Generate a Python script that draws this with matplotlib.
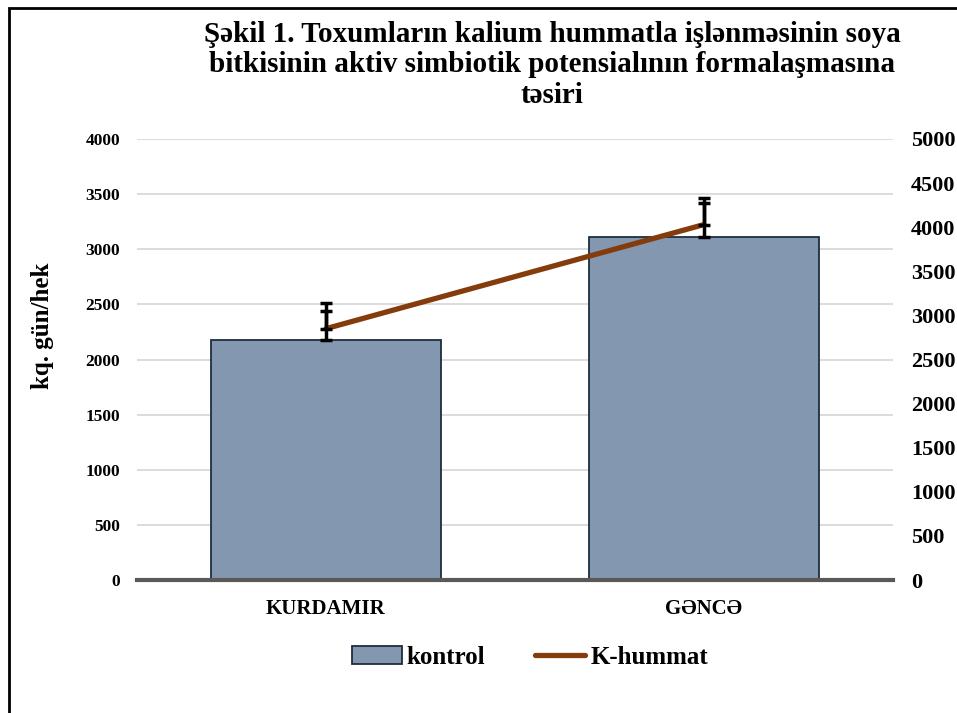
import matplotlib
matplotlib.use("Agg")
import matplotlib.pyplot as plt
from matplotlib.patches import Rectangle
from matplotlib.lines import Line2D
from matplotlib.patches import Patch

plt.rcParams['font.family'] = ['Liberation Serif', 'DejaVu Serif']
plt.rcParams['font.weight'] = 'bold'

categories = ["KURDAMIR", "GƏNCƏ"]
kontrol = [2180, 3110]
kontrol_err = [330, 355]
k_hummat = [2850, 4030]
k_hummat_err = [200, 250]
left_ticks = [0, 500, 1000, 1500, 2000, 2500, 3000, 3500, 4000]
right_ticks = [0, 500, 1000, 1500, 2000, 2500, 3000, 3500, 4000, 4500, 5000]
title = "Şəkil 1. Toxumların kalium hummatla işlənməsinin soya\nbitkisinin aktiv simbiotik potensialının formalaşmasına\ntəsiri"

W, H = 957, 713
fig = plt.figure(figsize=(W/100, H/100), dpi=100)
ax = fig.add_axes([137/W, 1-580/H, (893-137)/W, (580-139)/H])
x = list(range(len(categories)))

ax.bar(x, kontrol, width=0.606, color="#8497b0", edgecolor="#1f2d3d", linewidth=1.3, zorder=2, label="kontrol")
ax.errorbar(x, kontrol, yerr=[[0]*len(kontrol), kontrol_err], fmt="none", ecolor="black",
            elinewidth=2.5, capsize=4, capthick=2.5, zorder=5)
ax.set_xlim(-0.5, 1.5)
ax.set_ylim(0, 4000)
ax.set_yticks(left_ticks)
ax.set_yticklabels([str(t) for t in left_ticks], fontsize=12.5, fontweight='bold')
ax.set_xticks(x)
ax.set_xticklabels(categories, fontsize=15, fontweight='bold')
ax.tick_params(axis='y', length=0, pad=12)
ax.tick_params(axis='x', length=0, pad=14)
ax.grid(axis='y', color="#d9d9d9", linewidth=1.3, zorder=0)
ax.set_axisbelow(True)
for s in ['top', 'right', 'left']:
    ax.spines[s].set_visible(False)
ax.spines['bottom'].set_color("#595959")
ax.spines['bottom'].set_linewidth(3)
ax.spines['bottom'].set_zorder(6)

ax2 = ax.twinx()
ax2.plot(x, k_hummat, color="#843c0c", linewidth=3.8, solid_capstyle='round', zorder=3, label="K-hummat")
ax2.errorbar(x, k_hummat, yerr=[[0]*len(k_hummat), k_hummat_err], fmt="none", ecolor="black",
             elinewidth=2.5, capsize=4, capthick=2.5, zorder=4)
ax2.set_ylim(0, 5000)
ax2.set_yticks(right_ticks)
ax2.set_yticklabels([str(t) for t in right_ticks], fontsize=16, fontweight='bold')
ax2.tick_params(axis='y', length=0, pad=13)
for s in ['top', 'right', 'left', 'bottom']:
    ax2.spines[s].set_visible(False)

fig.text(552/W, 1-65/H, title, ha='center', va='center', fontsize=21, fontweight='bold', linespacing=1.18)
fig.text(42/W, 1-326/H, "kq. gün/hek", rotation=90, ha='center', va='center', fontsize=18, fontweight='bold')

handles = [Patch(facecolor="#8497b0", edgecolor="#1f2d3d", linewidth=1.3),
           Line2D([0], [0], color="#843c0c", linewidth=3.8, solid_capstyle='round')]
fig.legend(handles, ["kontrol", "K-hummat"], loc='center', bbox_to_anchor=(530/W, 1-657/H), ncol=2,
           frameon=False, prop={'size': 18, 'weight': 'bold'}, handlelength=2.0, handletextpad=0.2,
           columnspacing=2.0)

fig.patches.append(Rectangle((9/W, -0.05), 1.2, 1-8/H+0.05, transform=fig.transFigure, fill=False,
                             edgecolor='black', linewidth=2))

fig.savefig("out.png", dpi=100)
